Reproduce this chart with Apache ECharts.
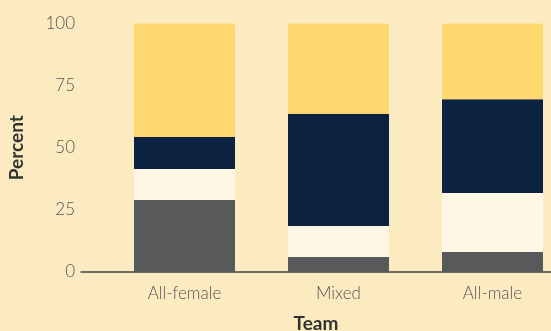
<!DOCTYPE html>
<html>
<head>
<meta charset="utf-8">
<script src="https://cdn.jsdelivr.net/npm/echarts@6/dist/echarts.min.js"></script>
<style>
  html, body { margin: 0; padding: 0; background: #FCEBC0; }
  #chart { width: 551px; height: 331px; }
</style>
</head>
<body>
<div id="chart"></div>
<script>
// Team composition, percent of each group (stacked bottom to top)
const teams = ['All-female', 'Mixed', 'All-male'];
const segGray   = [29.0, 6.0, 8.0];
const segCream  = [12.4, 12.5, 23.8];
const segNavy   = [12.9, 45.1, 37.7];
const segYellow = [45.7, 36.4, 30.5];
const yTicks = [0, 25, 50, 75, 100];

const FONT = 'Lato, "Noto Sans", sans-serif';
const TOP = 23.5, BOTTOM = 59;

function seg(name, data, color, radius) {
  return {
    name: name,
    type: 'bar',
    stack: 'team',
    xAxisIndex: 0,
    yAxisIndex: 0,
    barWidth: 101,
    data: data,
    itemStyle: { color: color, borderRadius: radius || 0 },
    emphasis: { disabled: true },
    silent: true
  };
}

const chart = echarts.init(document.getElementById('chart'), null, { renderer: 'canvas' });
chart.setOption({
  backgroundColor: '#FCEBC0',
  animation: false,
  grid: [
    // bar area: three equal bands, the last one running past the right edge
    { left: 107.5, right: -18.5, top: TOP, bottom: BOTTOM, outerBoundsMode: 'none', containLabel: false },
    // frame: full-width baseline, value scale and axis titles
    { left: 81, right: 0, top: TOP, bottom: BOTTOM, outerBoundsMode: 'none', containLabel: false }
  ],
  xAxis: [
    {
      type: 'category',
      gridIndex: 0,
      data: teams,
      axisLine: { show: false },
      axisTick: { show: false },
      axisLabel: {
        margin: 13,
        fontFamily: FONT,
        fontWeight: 300,
        fontSize: 17,
        color: '#555555'
      }
    },
    {
      type: 'value',
      gridIndex: 1,
      min: 0,
      max: 1,
      name: 'Team',
      nameLocation: 'middle',
      nameGap: 42,
      nameTextStyle: { fontFamily: FONT, fontWeight: 'bold', fontSize: 19, color: '#333333' },
      axisLine: { show: true, lineStyle: { color: '#444444', width: 1.5 } },
      axisTick: { show: false },
      axisLabel: { show: false },
      splitLine: { show: false }
    }
  ],
  yAxis: [
    {
      type: 'value',
      gridIndex: 0,
      min: 0,
      max: 100,
      show: false
    },
    {
      type: 'value',
      gridIndex: 1,
      min: 0,
      max: 100,
      interval: 25,
      name: 'Percent',
      nameLocation: 'middle',
      nameGap: 55,
      nameRotate: 90,
      nameTextStyle: { fontFamily: FONT, fontWeight: 'bold', fontSize: 19, color: '#333333' },
      axisLine: { show: false },
      axisTick: { show: false },
      splitLine: { show: false },
      axisLabel: {
        customValues: yTicks,
        margin: 6,
        fontFamily: FONT,
        fontWeight: 300,
        fontSize: 17,
        color: '#555555'
      }
    }
  ],
  series: [
    seg('Gray', segGray, '#58595B'),
    seg('Cream', segCream, '#FFF6E4'),
    seg('Navy', segNavy, '#0B2341'),
    seg('Yellow', segYellow, '#FED86E', [3, 3, 0, 0])
  ]
});
</script>
</body>
</html>
